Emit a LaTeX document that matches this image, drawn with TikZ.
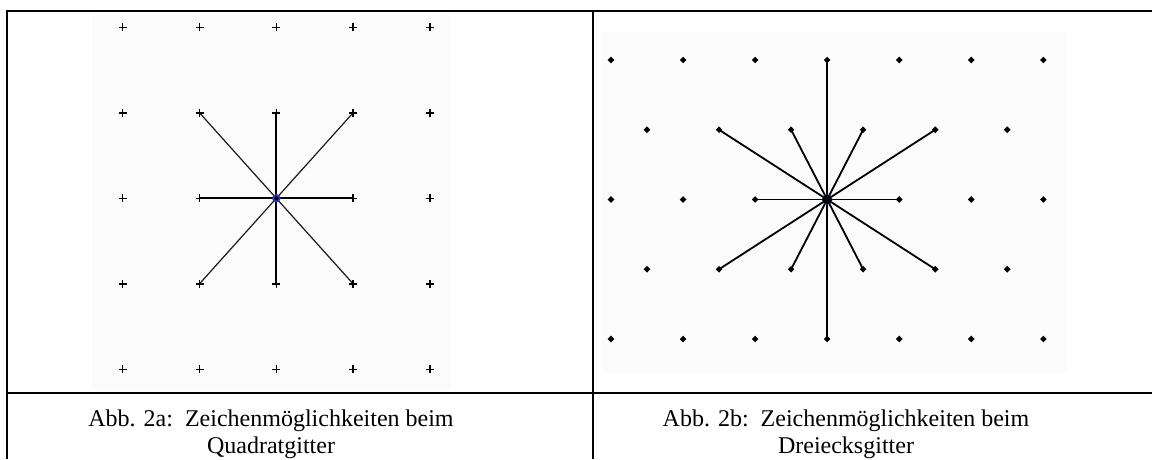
\documentclass[tikz,border=0pt]{standalone}
\usepackage{fontspec}
\setmainfont{Liberation Serif}
\definecolor{panelbg}{HTML}{FBFBFB}
\definecolor{dotblue}{HTML}{3030B0}
\begin{document}
\begin{tikzpicture}[x=1pt,y=-1pt,
  frame/.style={line width=2.6pt,black},
  panel/.style={fill=panelbg},
  plusmark/.style={line width=1.4pt,black},
  raya/.style={line width=1.2pt,black!90},
  rayaxis/.style={line width=1.8pt,black},
  rayb/.style={line width=1.8pt,black},
  caption/.style={font=\fontsize{24}{27}\selectfont,inner sep=0pt,anchor=base}]
\useasboundingbox (0,0) rectangle (1152,459);
\fill[white] (0,0) rectangle (1152,459);
% panel backgrounds
\fill[panel] (92,15) rectangle (451,390);
\fill[panel] (602,32) rectangle (1067,373);
% left grid coordinates
\foreach \i in {0,...,4}{
  \foreach \j in {0,...,4}{
    \coordinate (a-\i-\j) at ({122.7+76.8*\i},{27.3+85.5*\j});
  }
}
% right grid coordinates
\foreach \j in {0,2,4}{
  \foreach \i in {0,...,6}{
    \coordinate (b-\i-\j) at ({611+72.05*\i},{60+69.75*\j});
  }
}
\foreach \j in {1,3}{
  \foreach \i in {0,...,5}{
    \coordinate (b-\i-\j) at ({647+72.05*\i},{60+69.75*\j});
  }
}
% left rays
\draw[raya] (a-2-2) -- (a-1-1);
\draw[raya] (a-2-2) -- (a-3-1);
\draw[raya] (a-2-2) -- (a-1-3);
\draw[raya] (a-2-2) -- (a-3-3);
\draw[rayaxis] (a-2-2) -- (a-1-2);
\draw[rayaxis] (a-2-2) -- (a-3-2);
\draw[rayaxis] (a-2-2) -- (a-2-1);
\draw[rayaxis] (a-2-2) -- (a-2-3);
% left markers
\foreach \i in {0,...,4}{
  \foreach \j in {0,...,4}{
    \draw[plusmark] (a-\i-\j) +(-4,0) -- +(4,0) +(0,-4) -- +(0,4);
  }
}
\fill[dotblue] (a-2-2) circle (4.2);
\fill[black] (a-2-2) circle (2);
% right rays
\foreach \k/\r in {3/0,3/4,2/2,4/2,1/1,2/1,3/1,4/1,1/3,2/3,3/3,4/3}{
  \draw[rayb] (b-3-2) -- (b-\k-\r);
}
% right markers
\foreach \j in {0,2,4}{
  \foreach \i in {0,...,6}{
    \fill[black] (b-\i-\j) +(-3.3,0) -- +(0,-3.3) -- +(3.3,0) -- +(0,3.3) -- cycle;
  }
}
\foreach \j in {1,3}{
  \foreach \i in {0,...,5}{
    \fill[black] (b-\i-\j) +(-3.3,0) -- +(0,-3.3) -- +(3.3,0) -- +(0,3.3) -- cycle;
  }
}
\fill[dotblue] (b-3-2) circle (5.4);
\fill[black] (b-3-2) circle (4.8);
% table frame
\coordinate (tl) at (7,11);
\coordinate (tr) at (1152,11);
\coordinate (bl) at (7,459);
\coordinate (mt) at (593,11);
\coordinate (mb) at (593,459);
\coordinate (hl) at (7,393);
\coordinate (hr) at (1152,393);
\draw[frame] (tr) -- (tl) -- (bl);
\draw[frame] (mt) -- (mb);
\draw[frame] (hl) -- (hr);
% captions
\node[caption] (capa1) at (271,426) {Abb. 2a:\ \ Zeichenmöglichkeiten beim};
\node[caption] (capa2) at (271,453) {Quadratgitter};
\node[caption] (capb1) at (846,426) {Abb. 2b:\ \ Zeichenmöglichkeiten beim};
\node[caption] (capb2) at (846,453) {Dreiecksgitter};
\end{tikzpicture}
\end{document}
